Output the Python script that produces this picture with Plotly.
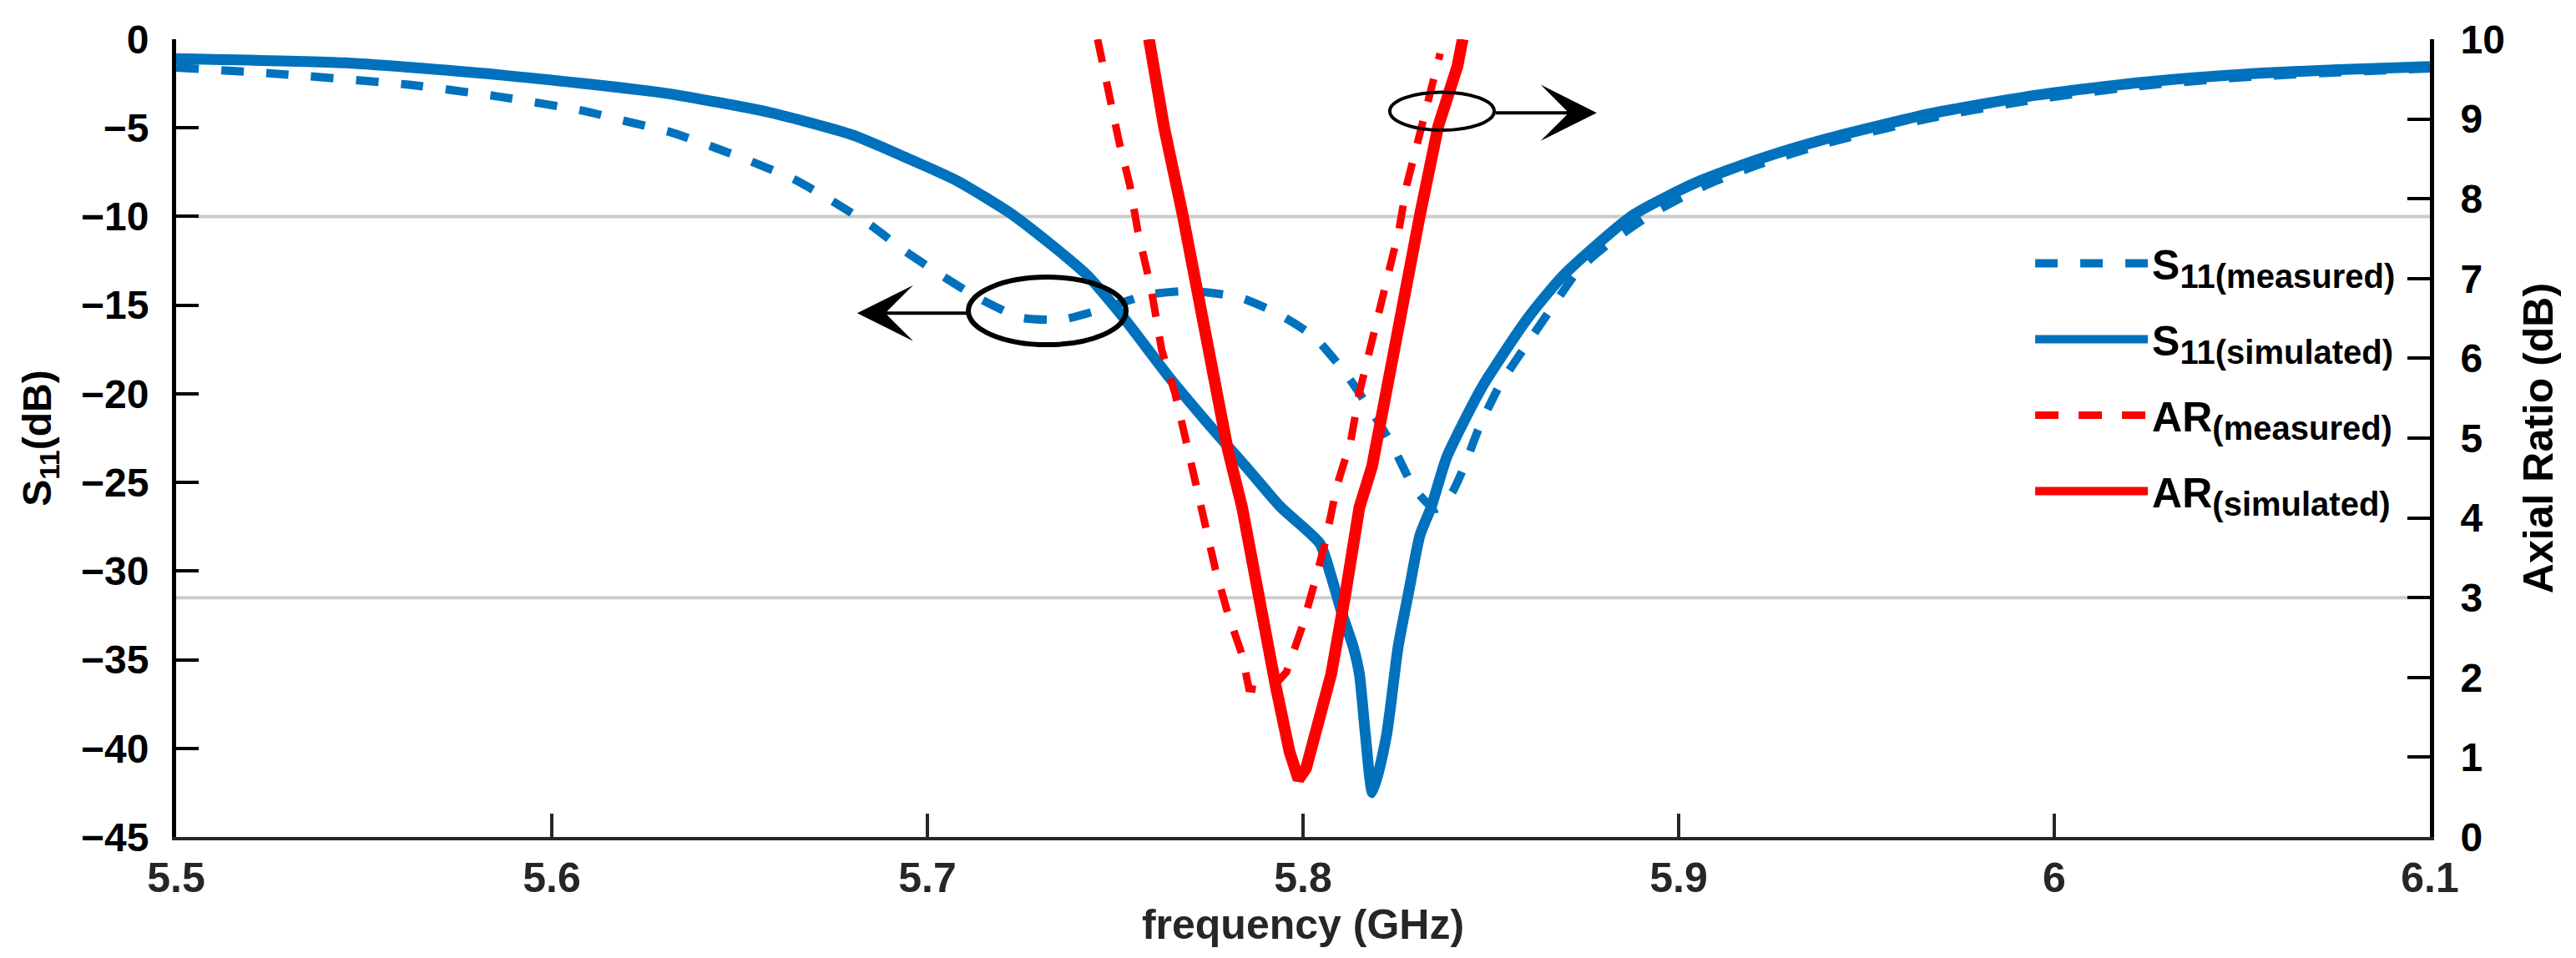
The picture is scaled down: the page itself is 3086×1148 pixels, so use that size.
import plotly.graph_objects as go

# ---------------- data ----------------
freq_s11_meas = [5.500, 5.526, 5.562, 5.586, 5.6087, 5.620, 5.6313, 5.6427, 5.6533, 5.6647,
                 5.675, 5.685, 5.694, 5.704, 5.7136, 5.7249, 5.7362, 5.7476, 5.759, 5.7702,
                 5.7829, 5.7935, 5.803, 5.8113, 5.8198, 5.824, 5.8298, 5.8353, 5.8396, 5.8431,
                 5.8467, 5.8524, 5.8596, 5.8667, 5.8736, 5.8822, 5.8936, 5.9076, 5.9216, 5.9388,
                 5.967, 5.9955, 6.0238, 6.052, 6.0805, 6.100]
s11_meas = [-1.60, -1.94, -2.57, -3.24, -4.05, -4.64, -5.22, -6.06, -6.91, -7.92,
            -9.17, -10.5, -11.95, -13.35, -14.6, -15.7, -15.8, -15.15, -14.4, -14.2,
            -14.55, -15.5, -16.8, -18.85, -21.5, -23.0, -25.4, -26.5, -25.6, -24.0,
            -22.0, -19.5, -17.2, -15.0, -12.95, -11.4, -9.76, -8.20, -7.05, -5.90,
            -4.45, -3.38, -2.62, -2.12, -1.82, -1.65]

freq_s11_sim = [5.500, 5.545, 5.587, 5.630, 5.658, 5.680, 5.694, 5.708, 5.723, 5.742,
                5.752, 5.7645, 5.776, 5.7845, 5.7941, 5.8045, 5.8075, 5.8104, 5.8134, 5.815,
                5.8165, 5.8185, 5.8222, 5.8253, 5.8282, 5.8311, 5.8341, 5.8382, 5.8425, 5.848,
                5.8596, 5.8694, 5.8878, 5.905, 5.9216, 5.9388, 5.967, 5.9955, 6.0238, 6.052,
                6.0805, 6.100]
s11_sim = [-1.10, -1.33, -2.03, -3.04, -4.13, -5.40, -6.65, -8.00, -9.95, -13.2,
           -15.65, -19.1, -22.0, -24.04, -26.4, -28.45, -30.3, -32.4, -34.3, -35.8,
           -39.0, -42.5, -39.3, -34.3, -31.1, -28.0, -26.4, -23.6, -21.7, -19.5,
           -15.8, -13.3, -9.93, -8.05, -6.75, -5.65, -4.20, -3.15, -2.42, -1.95,
           -1.68, -1.54]

freq_ar_meas = [5.7453, 5.7482, 5.751, 5.7539, 5.756, 5.7596, 5.7624, 5.766, 5.7688, 5.7716,
                5.7740, 5.7767, 5.7800, 5.7838, 5.7856, 5.7911, 5.7956, 5.7998, 5.8031, 5.8060,
                5.8090, 5.8127, 5.8149, 5.8177, 5.8205, 5.8227, 5.8255, 5.8276, 5.8304, 5.8333,
                5.8360, 5.8365]
ar_meas = [10.0, 9.29, 8.72, 8.17, 7.60, 6.86, 6.10, 5.55, 4.99, 4.45,
           3.89, 3.35, 2.80, 2.28, 1.86, 1.83, 2.07, 2.64, 3.19, 3.71,
           4.40, 4.96, 5.55, 6.10, 6.67, 7.05, 7.60, 8.17, 8.72, 9.29,
           9.77, 9.82]

freq_ar_sim = [5.759, 5.763, 5.768, 5.7716, 5.7758, 5.780, 5.7838, 5.788, 5.7927, 5.7964,
               5.7988, 5.8008, 5.8038, 5.8075, 5.8112, 5.815, 5.8184, 5.8227, 5.827, 5.8311,
               5.836, 5.8411, 5.8425]
ar_sim = [10.0, 8.9, 7.79, 6.86, 5.74, 4.85, 4.13, 3.02, 1.90, 1.07,
          0.72, 0.86, 1.34, 2.04, 3.02, 4.13, 4.65, 5.74, 6.82, 7.79,
          8.91, 9.66, 10.0]

x_tickvals = [5.5, 5.6, 5.7, 5.8, 5.9, 6.0, 6.1]
x_ticktext = ["5.5", "5.6", "5.7", "5.8", "5.9", "6", "6.1"]
y1_tickvals = [0, -5, -10, -15, -20, -25, -30, -35, -40, -45]
y2_tickvals = [0, 1, 2, 3, 4, 5, 6, 7, 8, 9, 10]

legend_names = [
    "S<sub><span style='font-size:40px'>11(measured)</span></sub>",
    "S<sub><span style='font-size:40px'>11(simulated)</span></sub>",
    "AR<sub><span style='font-size:40px'>(measured)</span></sub>",
    "AR<sub><span style='font-size:40px'>(simulated)</span></sub>",
]

# reference levels
s11_ref_level = -10
ar_ref_level = 3

# annotation ellipses / arrows (data coordinates of the S11 axis)
ellipse_s11 = dict(x0=5.7109, x1=5.7529, y0=-17.23, y1=-13.42)
arrow_s11 = dict(tail_x=5.7109, tip_x=5.6813, y=-15.45)
ellipse_ar = dict(x0=5.8231, x1=5.8509, y0=-5.13, y1=-2.99)
arrow_ar = dict(tail_x=5.8509, tip_x=5.8782, y=-4.15)

BLUE = "#0072BD"
RED = "#FF0000"
FONT = "Liberation Sans, Arial, sans-serif"

fig = go.Figure()
fig.add_trace(go.Scatter(x=freq_s11_meas, y=s11_meas, mode="lines",
                         name=legend_names[0], legendgroup="a",
                         line=dict(color=BLUE, width=10, dash="27px,27px",
                                   shape="spline", smoothing=0.6)))
fig.add_trace(go.Scatter(x=freq_s11_sim, y=s11_sim, mode="lines",
                         name=legend_names[1], legendgroup="b",
                         line=dict(color=BLUE, width=13, shape="spline", smoothing=0.6)))
fig.add_trace(go.Scatter(x=freq_ar_meas, y=ar_meas, mode="lines", yaxis="y2",
                         name=legend_names[2], legendgroup="c",
                         line=dict(color=RED, width=9, dash="28px,24px")))
fig.add_trace(go.Scatter(x=freq_ar_sim, y=ar_sim, mode="lines", yaxis="y2",
                         name=legend_names[3], legendgroup="d",
                         line=dict(color=RED, width=14)))

# gray reference lines
fig.add_shape(type="line", xref="x", yref="y", x0=5.505, x1=6.1,
              y0=s11_ref_level, y1=s11_ref_level,
              line=dict(color="#CCCCCC", width=4), layer="below")
fig.add_shape(type="line", xref="x", yref="y2", x0=5.5, x1=6.095,
              y0=ar_ref_level, y1=ar_ref_level,
              line=dict(color="#CCCCCC", width=4), layer="below")

# ellipses
fig.add_shape(type="circle", xref="x", yref="y", **ellipse_s11,
              line=dict(color="black", width=6), layer="above")
fig.add_shape(type="circle", xref="x", yref="y", **ellipse_ar,
              line=dict(color="black", width=4), layer="above")

# arrows
for a in (arrow_s11, arrow_ar):
    fig.add_annotation(x=a["tip_x"], y=a["y"], ax=a["tail_x"], ay=a["y"],
                       xref="x", yref="y", axref="x", ayref="y",
                       text="", showarrow=True, arrowhead=3, arrowsize=2.8,
                       arrowwidth=4, arrowcolor="black", standoff=0, startstandoff=0)

fig.update_layout(
    width=3086, height=1148,
    margin=dict(l=203, r=183, t=39, b=153, pad=0),
    paper_bgcolor="white", plot_bgcolor="white",
    template="none",
    font=dict(family=FONT, size=48, color="black", weight="bold"),
    showlegend=True,
    legend=dict(x=0.823, y=0.76, xanchor="left", yanchor="top",
                bgcolor="rgba(0,0,0,0)", borderwidth=0,
                font=dict(family=FONT, size=50, color="black", weight="bold"),
                itemwidth=135, tracegroupgap=23, traceorder="grouped"),
    xaxis=dict(range=[5.5, 6.1], tickvals=x_tickvals, ticktext=x_ticktext,
               showgrid=False, zeroline=False, showline=True, linecolor="#262626",
               linewidth=4, ticks="inside", ticklen=28, tickwidth=4, tickcolor="#262626",
               tickfont=dict(family=FONT, size=50, color="#262626", weight="bold"),
               ticklabelstandoff=2, mirror=False,
               title=dict(text="frequency (GHz)", standoff=0,
                          font=dict(family=FONT, size=50, color="#262626", weight="bold"))),
    yaxis=dict(range=[-45, 0], tickvals=y1_tickvals,
               showgrid=False, zeroline=False, showline=True, linecolor="black",
               linewidth=5, ticks="inside", ticklen=27, tickwidth=4, tickcolor="black",
               tickfont=dict(family=FONT, size=48, color="black", weight="bold"),
               ticklabelstandoff=18,
               title=dict(text="S<sub>11</sub>(dB)", standoff=22,
                          font=dict(family=FONT, size=48, color="black", weight="bold"))),
    yaxis2=dict(range=[0, 10], tickvals=y2_tickvals, overlaying="y", side="right",
                showgrid=False, zeroline=False, showline=True, linecolor="black",
                linewidth=5, ticks="inside", ticklen=27, tickwidth=4, tickcolor="black",
                tickfont=dict(family=FONT, size=48, color="black", weight="bold"),
                ticklabelstandoff=22,
                title=dict(text="Axial Ratio (dB)", standoff=25,
                           font=dict(family=FONT, size=50, color="black", weight="bold"))),
)

fig.write_html("out.html")
